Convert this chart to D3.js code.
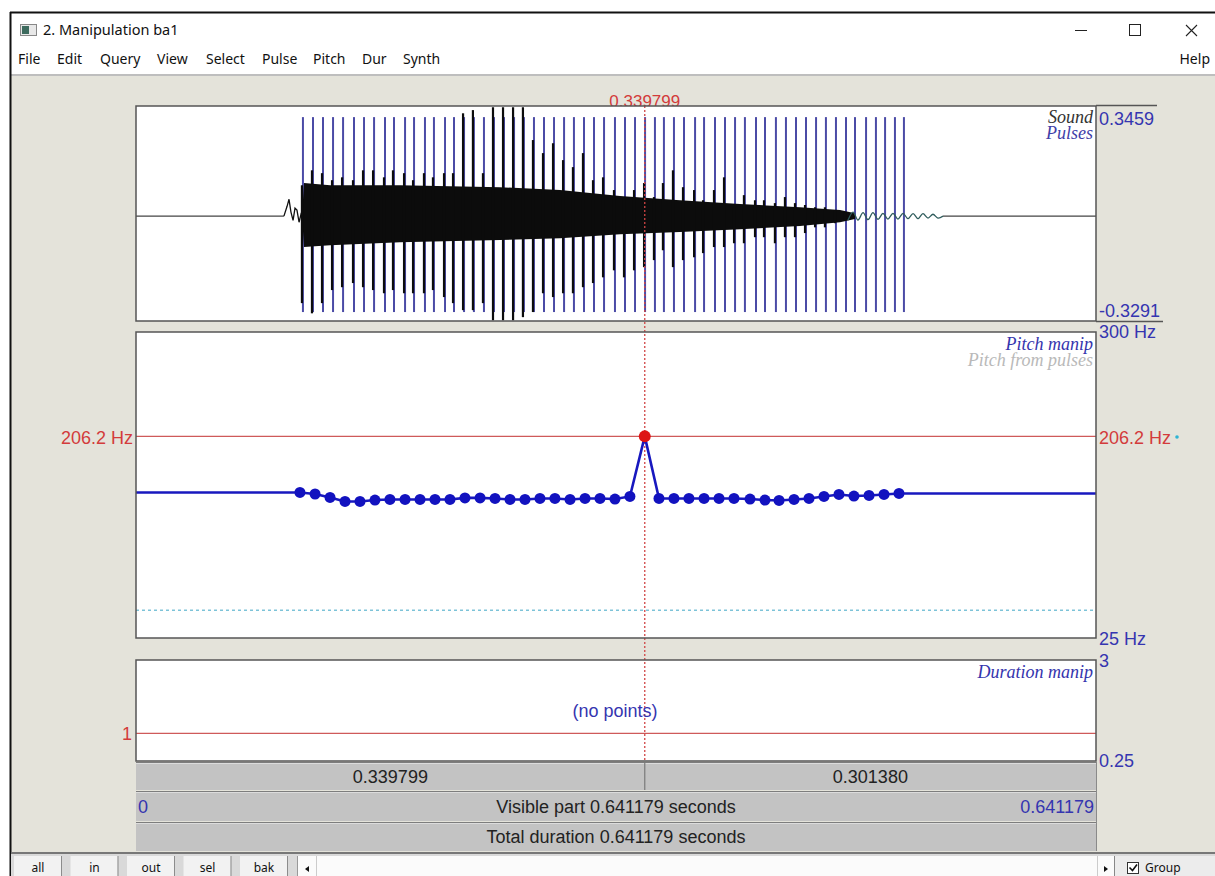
<!DOCTYPE html>
<html>
<head>
<meta charset="utf-8">
<title>2. Manipulation ba1</title>
<script src="https://d3js.org/d3.v7.min.js"></script>
<style>
  html, body { margin: 0; padding: 0; background: #fff; overflow: hidden; }
  svg { display: block; }
</style>
</head>
<body>
<div id="chart"></div>
<script>
// ---- values ----
const totalDuration = 0.641179;
const cursorTime = 0.339799;
const soundMin = -0.3291, soundMax = 0.3459;
const pitchMin = 25, pitchMax = 300;
const durMin = 0.25, durMax = 3;
const pitchFloor = 50;
const cursorPitch = 206.2;
const durValue = 1;
const pulseTop = 0.311, pulseBottom = -0.301;

// glottal pulses (s)
const pulseTimes = [0.1115, 0.1182, 0.1249, 0.1316, 0.1383, 0.1456, 0.1523, 0.1590, 0.1663, 0.1723,
  0.1797, 0.1857, 0.1930, 0.1990, 0.2064, 0.2124, 0.2191, 0.2257, 0.2324, 0.2391,
  0.2458, 0.2525, 0.2591, 0.2658, 0.2725, 0.2792, 0.2859, 0.2925, 0.2992, 0.3059,
  0.3126, 0.3199, 0.3266, 0.3333, 0.3400, 0.3466, 0.3526, 0.3593, 0.3660, 0.3734,
  0.3794, 0.3867, 0.3934, 0.4001, 0.4067, 0.4141, 0.4201, 0.4274, 0.4341, 0.4408,
  0.4475, 0.4542, 0.4608, 0.4675, 0.4742, 0.4802, 0.4876, 0.4942, 0.5003, 0.5069, 0.5129];

// waveform peak per pulse period (first 55 periods)
const spikeTop = [0.097, 0.144, 0.135, 0.113, 0.122, 0.113, 0.144, 0.144, 0.122, 0.144,
  0.135, 0.113, 0.135, 0.122, 0.135, 0.135, 0.323, 0.333, 0.135, 0.342,
  0.342, 0.342, 0.342, 0.239, 0.198, 0.229, 0.176, 0.154, 0.198, 0.113,
  0.122, 0.082, 0.060, 0.082, 0.104, 0.060, 0.104, 0.144, 0.091, 0.082,
  0.050, 0.082, 0.122, 0.028, 0.066, 0.050, 0.050, 0.041, 0.060, 0.041,
  0.035, 0.028, 0.028, 0.019, 0.013];
const spikeBottom = [-0.273, -0.305, -0.273, -0.232, -0.223, -0.210, -0.223, -0.232, -0.242, -0.232,
  -0.242, -0.242, -0.242, -0.232, -0.254, -0.273, -0.295, -0.295, -0.273, -0.327,
  -0.327, -0.327, -0.317, -0.301, -0.242, -0.254, -0.242, -0.242, -0.223, -0.210,
  -0.192, -0.170, -0.192, -0.170, -0.160, -0.138, -0.107, -0.160, -0.138, -0.129,
  -0.116, -0.097, -0.097, -0.085, -0.085, -0.066, -0.066, -0.085, -0.066, -0.066,
  -0.053, -0.035, -0.035, -0.022, -0.013];

// dense part of the waveform (envelope)
const bodyTimes = [0.1109, 0.1122, 0.1296, 0.1763, 0.2431, 0.2832, 0.3233, 0.3633, 0.4034, 0.4435, 0.4702, 0.4802];
const bodyUpper = [0, 0.104, 0.097, 0.097, 0.091, 0.082, 0.063, 0.050, 0.038, 0.028, 0.019, 0.009];
const bodyLower = [0, -0.097, -0.091, -0.082, -0.075, -0.069, -0.057, -0.050, -0.041, -0.031, -0.019, -0.009];

// small wiggle before voicing and ringing tail
const onsetTimes = [0.0988, 0.1009, 0.1022, 0.1035, 0.1049, 0.1062, 0.1075, 0.1089, 0.1102, 0.1109];
const onsetAmps = [0, 0.031, 0.053, 0.013, -0.013, 0.025, 0.019, -0.019, 0.006, 0];
const tailTimes = [0.4755, 0.4789, 0.4822, 0.4856, 0.4889, 0.4922, 0.4956, 0.4989, 0.5022, 0.5056,
  0.5089, 0.5123, 0.5156, 0.5190, 0.5223, 0.5256, 0.5290, 0.5323, 0.5356, 0.5390];
const tailAmps = [-0.013, 0.013, -0.012, 0.011, -0.011, 0.011, -0.010, 0.009, -0.009, 0.009,
  -0.009, 0.009, -0.008, 0.008, -0.008, 0.008, -0.006, 0.006, -0.006, 0];

// pitch manipulation points
const pitchTimes = [0.1095, 0.1196, 0.1296, 0.1396, 0.1496, 0.1596, 0.1696, 0.1797, 0.1897, 0.1997,
  0.2097, 0.2197, 0.2298, 0.2398, 0.2498, 0.2598, 0.2698, 0.2798, 0.2899, 0.2999,
  0.3099, 0.3199, 0.3299, 0.3398, 0.3493, 0.3593, 0.3693, 0.3794, 0.3894, 0.3994,
  0.4101, 0.4201, 0.4295, 0.4395, 0.4495, 0.4595, 0.4695, 0.4795, 0.4896, 0.4996, 0.5096];
const pitchValues = [155.8, 154.4, 151.3, 147.7, 147.7, 149.0, 149.5, 149.5, 149.5, 149.5,
  149.5, 150.9, 150.9, 150.4, 149.5, 149.5, 150.4, 150.4, 149.5, 150.4,
  150.4, 149.9, 152.2, 206.2, 150.4, 150.4, 150.4, 150.4, 150.4, 150.4,
  149.9, 149.0, 148.6, 149.5, 150.4, 152.2, 154.0, 152.6, 153.1, 154.0, 154.9];
const selectedPoint = 23;

const menuItems = ["File", "Edit", "Query", "View", "Select", "Pulse", "Pitch", "Dur", "Synth"];
const buttonLabels = ["all", "in", "out", "sel", "bak"];

// ---- layout ----
const W = 1215, H = 876;
const plotL = 136, plotR = 1096;
const soundTop = 106, soundBot = 321;
const pitchTop = 332, pitchBot = 638;
const durTop = 660, durBot = 761;
const beige = '#e4e3da';
const blueLab = '#3535b0';
const redLab = '#d33b3b';
const sans = '"Liberation Sans", Arial, sans-serif';
const serif = '"Liberation Serif", "Times New Roman", serif';
const ui = '"Noto Sans", "Open Sans", sans-serif';
const menuX = [18, 57, 100, 157, 206, 262, 313, 362, 403];

const svg = d3.select('#chart').append('svg').attr('width', W).attr('height', H);

const x = d3.scaleLinear().domain([0, totalDuration]).range([plotL, plotR]);
const ySound = d3.scaleLinear().domain([soundMin, soundMax]).range([soundBot, soundTop]);
const yPitch = d3.scaleLinear().domain([pitchMin, pitchMax]).range([pitchBot, pitchTop]);
const yDur = d3.scaleLinear().domain([durMin, durMax]).range([durBot, durTop]);

function text(g, str, px, py, o) {
    o = o || {};
    return g.append('text').attr('x', px).attr('y', py).text(str)
        .attr('font-family', o.family || sans)
        .attr('font-size', o.size || 18)
        .attr('font-style', o.italic ? 'italic' : null)
        .attr('text-anchor', o.anchor || 'start')
        .attr('fill', o.fill || '#222');
}

// ---- window chrome ----
svg.append('rect').attr('width', W).attr('height', H).attr('fill', '#fff');
svg.append('rect').attr('x', 11).attr('y', 76).attr('width', W - 11).attr('height', 777).attr('fill', beige);
svg.append('line').attr('x1', 11).attr('x2', W).attr('y1', 75).attr('y2', 75).attr('stroke', '#a8a8a8').attr('stroke-width', 1.5);
svg.append('line').attr('x1', 10).attr('x2', W).attr('y1', 12.5).attr('y2', 12.5).attr('stroke', '#111').attr('stroke-width', 2);
svg.append('line').attr('x1', 10.5).attr('x2', 10.5).attr('y1', 12).attr('y2', H).attr('stroke', '#111').attr('stroke-width', 2);

// title bar
const icon = svg.append('g');
icon.append('rect').attr('x', 20.5).attr('y', 24.5).attr('width', 16).attr('height', 11).attr('fill', '#e8e8e8').attr('stroke', '#888');
icon.append('rect').attr('x', 22).attr('y', 26).attr('width', 7).attr('height', 8).attr('fill', '#3d6b5e');
text(svg, '2. Manipulation ba1', 43, 35, { family: ui, size: 14.5, fill: '#111' });
svg.append('line').attr('x1', 1075).attr('x2', 1087).attr('y1', 30.5).attr('y2', 30.5).attr('stroke', '#222');
svg.append('rect').attr('x', 1129.5).attr('y', 24.5).attr('width', 11).attr('height', 11).attr('fill', 'none').attr('stroke', '#222');
svg.append('path').attr('d', 'M1186,25 L1197,36 M1197,25 L1186,36').attr('stroke', '#222').attr('stroke-width', 1.1);

// menu
menuItems.forEach((m, i) => text(svg, m, menuX[i], 64, { family: ui, size: 14, fill: '#111' }));
text(svg, 'Help', 1210, 64, { family: ui, size: 14, fill: '#111', anchor: 'end' });

// ---- top cursor label (partly hidden behind the panel) ----
text(svg, cursorTime.toFixed(6), x(cursorTime), 107, { size: 17, fill: redLab, anchor: 'middle' });

// ---- panels ----
function panel(top, bot) {
    svg.append('rect').attr('x', plotL).attr('y', top).attr('width', plotR - plotL).attr('height', bot - top)
        .attr('fill', '#fff');
}
panel(soundTop, soundBot);
panel(pitchTop, pitchBot);
panel(durTop, durBot);

svg.append('clipPath').attr('id', 'clipSound').append('rect')
    .attr('x', plotL).attr('y', soundTop).attr('width', plotR - plotL).attr('height', soundBot - soundTop);
const sound = svg.append('g').attr('clip-path', 'url(#clipSound)');

// silent parts
sound.append('line').attr('x1', x(0)).attr('x2', x(onsetTimes[0])).attr('y1', ySound(0)).attr('y2', ySound(0))
    .attr('stroke', '#444').attr('stroke-width', 1.2);
sound.append('line').attr('x1', x(tailTimes[tailTimes.length - 1])).attr('x2', x(totalDuration))
    .attr('y1', ySound(0)).attr('y2', ySound(0)).attr('stroke', '#444').attr('stroke-width', 1.2);

// pulses
sound.selectAll('.pulse').data(pulseTimes).enter().append('line').attr('class', 'pulse')
    .attr('x1', d => x(d)).attr('x2', d => x(d))
    .attr('y1', ySound(pulseTop)).attr('y2', ySound(pulseBottom))
    .attr('stroke', '#4b4ba6').attr('stroke-width', 2);

// waveform
const onsetLine = d3.line().x(d => x(d[0])).y(d => ySound(d[1]));
sound.append('path').attr('d', onsetLine(onsetTimes.map((t, i) => [t, onsetAmps[i]])))
    .attr('fill', 'none').attr('stroke', '#111').attr('stroke-width', 1.3);

const body = d3.area().x(d => x(d.t)).y0(d => ySound(d.lo)).y1(d => ySound(d.hi));
sound.append('path').attr('d', body(bodyTimes.map((t, i) => ({ t: t, hi: bodyUpper[i], lo: bodyLower[i] }))))
    .attr('fill', '#0c0c0c');

sound.selectAll('.spike').data(spikeTop).enter().append('line').attr('class', 'spike')
    .attr('x1', (d, i) => x(pulseTimes[i]) - 1).attr('x2', (d, i) => x(pulseTimes[i]) - 1)
    .attr('y1', d => ySound(d)).attr('y2', (d, i) => ySound(spikeBottom[i]))
    .attr('stroke', '#0c0c0c').attr('stroke-width', 2.2);

const tailLine = d3.line().x(d => x(d[0])).y(d => ySound(d[1])).curve(d3.curveCatmullRom);
sound.append('path').attr('d', tailLine(tailTimes.map((t, i) => [t, tailAmps[i]])))
    .attr('fill', 'none').attr('stroke', '#2f5c5c').attr('stroke-width', 1.3);

text(svg, 'Sound', plotR - 3, 123, { family: serif, size: 18, italic: true, fill: '#333', anchor: 'end' });
text(svg, 'Pulses', plotR - 3, 139, { family: serif, size: 18, italic: true, fill: '#4040a8', anchor: 'end' });

// ---- pitch panel ----
svg.append('line').attr('x1', plotL).attr('x2', plotR).attr('y1', yPitch(cursorPitch)).attr('y2', yPitch(cursorPitch))
    .attr('stroke', '#cf5a5a').attr('stroke-width', 1.2);
svg.append('line').attr('x1', plotL).attr('x2', plotR).attr('y1', yPitch(pitchFloor)).attr('y2', yPitch(pitchFloor))
    .attr('stroke', '#3fa6c6').attr('stroke-width', 1).attr('stroke-dasharray', '3,3');
svg.append('line').attr('x1', plotL).attr('x2', plotR).attr('y1', yDur(durValue)).attr('y2', yDur(durValue))
    .attr('stroke', '#cf5a5a').attr('stroke-width', 1.2);

// cursor
svg.append('line').attr('x1', x(cursorTime)).attr('x2', x(cursorTime)).attr('y1', 106).attr('y2', 762)
    .attr('stroke', '#d04545').attr('stroke-width', 1.3).attr('stroke-dasharray', '2,2');

const pitchData = pitchTimes.map((t, i) => ({ t: t, f: pitchValues[i] }));
const lineData = [{ t: 0, f: pitchValues[0] }].concat(pitchData, [{ t: totalDuration, f: pitchValues[pitchValues.length - 1] }]);
const pitchLine = d3.line().x(d => x(d.t)).y(d => yPitch(d.f));
svg.append('path').attr('d', pitchLine(lineData)).attr('fill', 'none')
    .attr('stroke', '#1818bf').attr('stroke-width', 2.6);
svg.selectAll('.pp').data(pitchData.filter((d, i) => i !== selectedPoint)).enter().append('circle').attr('class', 'pp')
    .attr('cx', d => x(d.t)).attr('cy', d => yPitch(d.f)).attr('r', 5.5).attr('fill', '#1212bf');
svg.append('circle').attr('cx', x(pitchData[selectedPoint].t)).attr('cy', yPitch(pitchData[selectedPoint].f))
    .attr('r', 6).attr('fill', '#dd1414');

text(svg, 'Pitch manip', plotR - 3, 350, { family: serif, size: 18, italic: true, fill: '#3434ad', anchor: 'end' });
text(svg, 'Pitch from pulses', plotR - 3, 366, { family: serif, size: 18, italic: true, fill: '#b9b9b9', anchor: 'end' });
text(svg, 'Duration manip', plotR - 3, 678, { family: serif, size: 18, italic: true, fill: '#3434ad', anchor: 'end' });
text(svg, '(no points)', 615, 717, { size: 18, fill: blueLab, anchor: 'middle' });

// panel borders on top
[[soundTop, soundBot], [pitchTop, pitchBot], [durTop, durBot]].forEach(p => {
    svg.append('rect').attr('x', plotL).attr('y', p[0]).attr('width', plotR - plotL).attr('height', p[1] - p[0])
        .attr('fill', 'none').attr('stroke', '#555').attr('stroke-width', 1.5);
});

// ---- value labels at the sides ----
const lx = plotR + 3;
svg.append('line').attr('x1', plotR).attr('x2', 1157).attr('y1', soundTop - 0.5).attr('y2', soundTop - 0.5).attr('stroke', '#555').attr('stroke-width', 1.5);
svg.append('line').attr('x1', plotR).attr('x2', 1163).attr('y1', soundBot + 0.5).attr('y2', soundBot + 0.5).attr('stroke', '#555').attr('stroke-width', 1.5);
text(svg, soundMax.toFixed(4), lx, 125, { fill: blueLab });
text(svg, soundMin.toFixed(4), lx, 317, { fill: blueLab });
text(svg, pitchMax + ' Hz', lx, 338, { fill: blueLab });
text(svg, cursorPitch.toFixed(1) + ' Hz', lx, 444, { fill: redLab });
text(svg, cursorPitch.toFixed(1) + ' Hz', plotL - 3, 444, { fill: redLab, anchor: 'end' });
svg.append('circle').attr('cx', 1177).attr('cy', 437).attr('r', 1.8).attr('fill', '#2eb4d4');
text(svg, pitchMin + ' Hz', lx, 645, { fill: blueLab });
text(svg, String(durMax), lx, 667, { fill: blueLab });
text(svg, String(durMin), lx, 767, { fill: blueLab });
text(svg, String(durValue), plotL - 4, 740, { fill: redLab, anchor: 'end' });

// ---- time bars ----
const bars = [[762, 790], [791, 821], [822, 851]];
bars.forEach(b => {
    svg.append('rect').attr('x', plotL).attr('y', b[0]).attr('width', plotR - plotL).attr('height', b[1] - b[0]).attr('fill', '#c3c3c3');
    svg.append('line').attr('x1', plotL).attr('x2', plotR).attr('y1', b[0] + 0.5).attr('y2', b[0] + 0.5).attr('stroke', '#7d7d7d');
    svg.append('line').attr('x1', plotL).attr('x2', plotR).attr('y1', b[0] + 1.5).attr('y2', b[0] + 1.5).attr('stroke', '#dcdcdc');
});
svg.append('line').attr('x1', plotR + 0.5).attr('x2', plotR + 0.5).attr('y1', 762).attr('y2', 851).attr('stroke', '#8a8a8a');
svg.append('line').attr('x1', x(cursorTime)).attr('x2', x(cursorTime)).attr('y1', 762).attr('y2', 790).attr('stroke', '#7a7a7a').attr('stroke-width', 1.2);
text(svg, cursorTime.toFixed(6), (plotL + x(cursorTime)) / 2, 783, { anchor: 'middle' });
text(svg, (totalDuration - cursorTime).toFixed(6), (x(cursorTime) + plotR) / 2, 783, { anchor: 'middle' });
text(svg, '0', plotL + 2, 813, { fill: blueLab });
text(svg, 'Visible part ' + totalDuration + ' seconds', (plotL + plotR) / 2, 813, { anchor: 'middle' });
text(svg, String(totalDuration), plotR - 2, 813, { fill: blueLab, anchor: 'end' });
text(svg, 'Total duration ' + totalDuration + ' seconds', (plotL + plotR) / 2, 843, { anchor: 'middle' });

// ---- bottom button row ----
svg.append('rect').attr('x', 11).attr('y', 852).attr('width', W - 11).attr('height', 24).attr('fill', '#d9d9d9');
svg.append('line').attr('x1', 11).attr('x2', W).attr('y1', 853).attr('y2', 853).attr('stroke', '#777').attr('stroke-width', 2);
buttonLabels.forEach((b, i) => {
    const cx = 38 + i * 56.5;
    svg.append('rect').attr('x', cx - 24).attr('y', 856).attr('width', 47).attr('height', 20).attr('fill', '#f2f2f2');
    svg.append('line').attr('x1', cx + 23.5).attr('x2', cx + 23.5).attr('y1', 856).attr('y2', H).attr('stroke', '#8c8c8c');
    text(svg, b, cx, 872, { family: ui, size: 12, anchor: 'middle', fill: '#111' });
});
svg.append('rect').attr('x', 297).attr('y', 856).attr('width', 1120 - 297).attr('height', 20).attr('fill', '#fbfbfb');
svg.append('line').attr('x1', 297.5).attr('x2', 297.5).attr('y1', 856).attr('y2', H).attr('stroke', '#999');
svg.append('line').attr('x1', 316.5).attr('x2', 316.5).attr('y1', 856).attr('y2', H).attr('stroke', '#ccc');
svg.append('path').attr('d', 'M309,866 L305,869 L309,872 Z').attr('fill', '#111');
svg.append('line').attr('x1', 1097.5).attr('x2', 1097.5).attr('y1', 856).attr('y2', H).attr('stroke', '#ccc');
svg.append('path').attr('d', 'M1104,866 L1108,869 L1104,872 Z').attr('fill', '#111');
svg.append('rect').attr('x', 1114).attr('y', 856).attr('width', W - 1114).attr('height', 20).attr('fill', '#ececec');
svg.append('line').attr('x1', 1114.5).attr('x2', 1114.5).attr('y1', 856).attr('y2', H).attr('stroke', '#888');
svg.append('rect').attr('x', 1127.5).attr('y', 862.5).attr('width', 11).attr('height', 11).attr('fill', '#fff').attr('stroke', '#333');
svg.append('path').attr('d', 'M1129.5,867.5 L1132.5,870.5 L1137,864.5').attr('fill', 'none').attr('stroke', '#111').attr('stroke-width', 1.6);
text(svg, 'Group', 1145, 872, { family: ui, size: 12, fill: '#111' });
</script>
</body>
</html>
